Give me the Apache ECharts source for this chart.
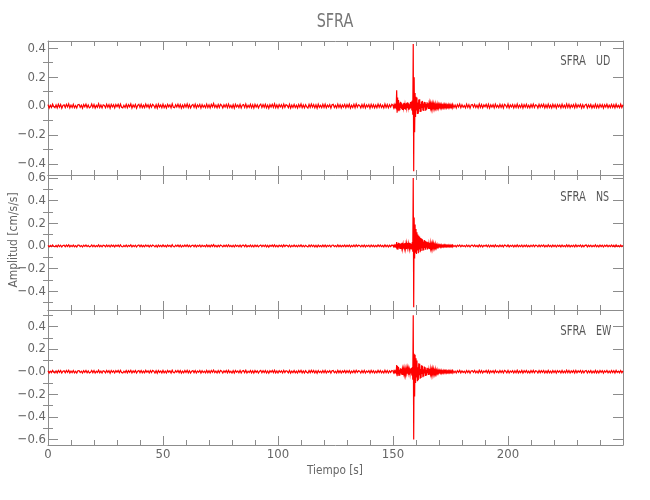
<!DOCTYPE html>
<html>
<head>
<meta charset="utf-8">
<script src="https://cdn.jsdelivr.net/npm/echarts@6/dist/echarts.min.js"></script>
<style>html,body{margin:0;padding:0;background:#fff}#c{width:650px;height:500px}</style>
</head>
<body>
<div id="c"></div>
<script>
// ---- Data ----
const title = 'SFRA';
const station = 'SFRA';
const components = ['UD', 'NS', 'EW'];
const xName = 'Tiempo [s]';
const yName = 'Amplitud [cm/s/s]';
const xTicks = [0, 50, 100, 150, 200];

// sampling of the three stored segments (seconds)
const quietAStart = 0, quietAStep = 0.5;
const eventStart = 150, eventStep = 0.2;
const quietBStart = 176, quietBStep = 0.5;

// UD component
const udQuietA = [
.010,-.013,.006,-.009,.014,-.004,-.011,.008,-.012,.013,-.007,.011,-.014,.005,.009,-.010,.012,-.006,.015,-.012,
.007,-.009,.013,-.011,.004,-.013,.010,.012,-.008,.006,-.014,.011,-.005,.013,-.010,.008,-.012,-.006,.014,-.009,
.011,-.013,.005,-.008,.016,-.010,.007,-.012,.009,.004,-.011,.013,-.007,.010,-.015,.012,-.006,.009,-.013,.011,
-.004,.012,-.010,.014,-.008,-.012,.006,-.009,.013,-.011,.010,-.005,.015,-.013,.008,-.007,.011,-.014,.005,.012,
-.009,.013,-.011,.006,-.010,.014,-.006,.009,-.013,.011,-.008,.012,.004,-.012,.010,-.015,.013,-.007,.008,-.011,
.014,-.010,.006,-.013,.012,-.005,.009,-.012,.016,-.008,-.011,.010,-.006,.013,-.009,.011,-.014,.007,-.010,.012,
-.007,.015,-.011,.009,-.013,.005,.011,-.009,.013,-.012,.008,-.006,.012,-.014,.010,-.008,.006,-.011,.014,-.010,
.009,-.013,.012,-.005,.018,-.009,.007,-.012,.011,-.010,.013,.005,-.013,.009,-.007,.012,-.011,.014,-.009,.006,
-.012,.010,-.014,.013,-.006,.008,-.010,.012,-.013,.007,.011,-.009,.015,-.012,.006,-.008,.013,-.011,.010,-.014,
.012,-.007,.009,-.013,.005,.014,-.010,.011,-.008,.013,-.012,.007,-.015,.010,-.006,.012,-.009,.016,-.011,.008,
-.013,.011,-.006,.009,-.012,.014,-.008,.010,.005,-.011,.013,-.014,.007,-.009,.012,-.010,.006,-.013,.011,-.007,
.015,-.011,.008,-.012,.010,-.005,-.013,.012,-.009,.014,-.007,.011,-.012,.009,-.015,.013,-.008,.006,-.011,.012,
-.010,.013,-.012,.007,-.006,.011,-.014,.009,.012,-.010,.005,-.012,.014,-.009,.010,-.013,.008,-.007,.012,-.011,
.010,-.008,.013,-.014,.006,-.009,.012,-.011,.015,-.007,.009,.004,-.012,.011,-.010,.013,-.013,.008,-.006,.011,
-.014,.012,-.009,.010,-.012,.007,-.011,.014,-.008,.012,-.010,.006,-.013,.015,-.009,.011,-.012,.009,-.007,.013];
const udEvent = [
.006,-.008,.005,-.007,.008,-.006,.007,-.006,
.110,-.045,.060,-.030,.042,-.035,.020,-.028,
.030,-.012,.025,-.022,.010,-.026,.018,-.009,.022,
-.020,.008,-.024,.017,-.011,.023,-.015,.026,-.008,.019,-.025,.012,-.018,.028,-.014,.032,-.030,.038,
-.060,.430,-.450,.200,-.180,.090,-.075,.065,
-.030,.060,-.055,.025,-.052,.045,-.020,.048,-.040,.015,
-.038,.032,-.012,.036,-.030,.018,-.034,.029,-.010,.027,-.031,.014,-.024,.026,-.009,
.020,-.020,.009,-.019,.018,-.007,.017,-.016,.008,-.017,.015,-.006,.015,-.014,.007,-.014,.013,-.011,.005,-.012,
.012,-.010,.007,-.012,.010,-.005,.010,-.009,.006,-.010,.009,-.008,.004,-.009,.007,-.008,.009,-.005,.008,-.007,
.007,-.009,.004,-.006,.008,-.008,.005,-.007,.008,-.006,.004,-.007,.006,-.008];
const udQuietB = [
.012,-.010,.007,-.013,.011,-.006,.014,-.011,.009,-.008,.005,-.012,.013,-.009,.010,-.014,.008,.011,-.007,.012,
-.010,.006,-.013,.015,-.009,.011,-.012,.008,-.005,.012,-.011,.013,-.014,.009,-.007,.010,-.012,.014,-.008,.006,
-.011,.013,-.009,.010,-.013,.012,.005,-.010,.014,-.012,.008,-.006,.011,-.013,.009,-.010,.015,-.011,.007,-.009,
.012,-.014,.010,-.007,.013,-.011,.006,-.012,.011,-.008,.014,-.010,.009,.005,-.013,.012,-.009,.011,-.006,.013,
-.012,.008,-.011,.014,-.010,.007,-.013,.012,-.008,.010,-.014,.011,-.006,.009,-.012,.013,-.010,.006,-.011,.015,
-.009,.012,-.013,.008,-.007,.011,-.012,.014,-.010,.009,-.006,.012,-.013,.010,-.011,.007,.013,-.012,.009,-.008,
.011,-.013,.006,-.010,.014,-.011,.008,-.012,.012,-.007,.010,-.014,.009,-.006,.013,-.011,.007,-.010,.012,-.009,
.010,-.012,.014,-.008,.006,-.011,.013,-.010,.009];

// NS component
const nsQuietA = [
.006,-.008,.004,-.006,.009,-.003,-.007,.005,-.008,.008,-.005,.007,-.009,.004,.006,-.007,.008,-.004,.010,-.008,
.005,-.006,.008,-.007,.003,-.009,.007,.008,-.005,.004,-.009,.007,-.004,.008,-.006,.005,-.008,-.004,.009,-.006,
.007,-.008,.004,-.005,.010,-.007,.005,-.008,.006,.003,-.007,.008,-.005,.007,-.009,.008,-.004,.006,-.008,.007,
-.003,.008,-.007,.009,-.005,-.008,.004,-.006,.008,-.007,.006,-.004,.010,-.008,.005,-.005,.007,-.009,.004,.008,
-.006,.008,-.007,.004,-.007,.009,-.004,.006,-.008,.007,-.005,.008,.003,-.008,.006,-.010,.008,-.005,.005,-.007,
.009,-.006,.004,-.008,.008,-.003,.006,-.008,.011,-.005,-.007,.007,-.004,.008,-.006,.007,-.009,.005,-.006,.008,
-.005,.010,-.007,.006,-.008,.004,.007,-.006,.008,-.008,.005,-.004,.008,-.009,.006,-.005,.004,-.007,.009,-.006,
.006,-.008,.008,-.004,.012,-.006,.005,-.008,.007,-.006,.008,.003,-.008,.006,-.005,.008,-.007,.009,-.006,.004,
-.008,.006,-.009,.008,-.004,.005,-.007,.008,-.008,.005,.007,-.006,.010,-.008,.004,-.005,.008,-.007,.006,-.009,
.008,-.005,.006,-.008,.003,.009,-.006,.007,-.005,.008,-.008,.005,-.010,.006,-.004,.008,-.006,.010,-.007,.005,
-.008,.007,-.004,.006,-.008,.009,-.005,.006,.003,-.007,.008,-.009,.005,-.006,.008,-.006,.004,-.008,.007,-.005,
.010,-.007,.005,-.008,.006,-.003,-.008,.008,-.006,.009,-.005,.007,-.008,.006,-.010,.008,-.005,.004,-.007,.008,
-.006,.008,-.008,.005,-.004,.007,-.009,.006,.008,-.006,.003,-.008,.009,-.006,.006,-.008,.005,-.005,.008,-.007,
.006,-.005,.008,-.009,.004,-.006,.008,-.007,.010,-.005,.006,.003,-.008,.007,-.006,.008,-.008,.005,-.004,.007,
-.009,.008,-.006,.006,-.008,.005,-.007,.009,-.005,.008,-.006,.004,-.008,.010,-.006,.007,-.008,.006,-.005,.008];
const nsEvent = [
.005,-.006,.004,-.005,.006,-.005,.005,-.006,
.035,-.030,.020,-.032,.028,-.015,.024,-.027,
.018,-.026,.024,-.010,.027,-.021,.012,-.025,.022,
-.014,.026,-.022,.011,-.027,.020,-.013,.025,-.024,.015,-.020,.027,-.012,.024,-.028,.018,-.030,.034,
-.050,.600,-.540,.250,-.110,.190,-.060,.150,
-.070,.120,-.040,.100,-.065,.090,-.030,.080,-.055,.070,
-.045,.065,-.020,.058,-.042,.040,-.038,.052,-.018,.045,-.034,.040,-.015,.036,-.030,
.032,-.022,.015,-.026,.028,-.012,.024,-.021,.010,-.022,.020,-.009,.018,-.017,.008,-.016,.015,-.012,.006,-.014,
.010,-.008,.005,-.009,.008,-.004,.008,-.008,.004,-.007,.007,-.006,.003,-.007,.006,-.005,.007,-.004,.006,-.005,
.005,-.006,.004,-.005,.006,-.005,.003,-.006,.006,-.005,.003,-.005,.005,-.006];
const nsQuietB = [
.008,-.006,.005,-.008,.007,-.004,.009,-.007,.006,-.005,.003,-.008,.008,-.006,.006,-.009,.005,.007,-.005,.008,
-.006,.004,-.008,.010,-.006,.007,-.008,.005,-.003,.008,-.007,.008,-.009,.006,-.005,.006,-.008,.009,-.005,.004,
-.007,.008,-.006,.006,-.008,.008,.003,-.006,.009,-.008,.005,-.004,.007,-.008,.006,-.006,.010,-.007,.005,-.006,
.008,-.009,.006,-.005,.008,-.007,.004,-.008,.007,-.005,.009,-.006,.006,.003,-.008,.008,-.006,.007,-.004,.008,
-.008,.005,-.007,.009,-.006,.005,-.008,.008,-.005,.006,-.009,.007,-.004,.006,-.008,.008,-.006,.004,-.007,.010,
-.006,.008,-.008,.005,-.005,.007,-.008,.009,-.006,.006,-.004,.008,-.008,.006,-.007,.005,.008,-.008,.006,-.005,
.007,-.008,.004,-.006,.009,-.007,.005,-.008,.008,-.005,.006,-.009,.006,-.004,.008,-.007,.005,-.006,.008,-.006,
.006,-.008,.009,-.005,.004,-.007,.008,-.006,.006];

// EW component
const ewQuietA = [
.009,-.011,.005,-.008,.012,-.004,-.010,.007,-.011,.011,-.006,.010,-.012,.004,.008,-.009,.011,-.005,.013,-.010,
.006,-.008,.011,-.010,.004,-.012,.009,.010,-.007,.005,-.012,.010,-.005,.011,-.009,.007,-.011,-.005,.012,-.008,
.010,-.011,.004,-.007,.014,-.009,.006,-.011,.008,.004,-.010,.011,-.006,.009,-.013,.011,-.005,.008,-.011,.010,
-.004,.011,-.009,.012,-.007,-.011,.005,-.008,.011,-.010,.009,-.005,.013,-.011,.007,-.006,.010,-.012,.005,.011,
-.008,.011,-.010,.005,-.009,.012,-.005,.008,-.011,.010,-.007,.011,.004,-.011,.009,-.013,.011,-.006,.007,-.010,
.012,-.009,.005,-.011,.011,-.004,.008,-.011,.014,-.007,-.010,.009,-.005,.011,-.008,.010,-.012,.006,-.009,.011,
-.006,.013,-.010,.008,-.011,.005,.010,-.008,.011,-.011,.007,-.005,.011,-.012,.009,-.007,.005,-.010,.012,-.009,
.008,-.011,.011,-.005,.015,-.008,.006,-.011,.010,-.009,.011,.004,-.011,.008,-.006,.011,-.010,.012,-.008,.005,
-.011,.009,-.012,.011,-.005,.007,-.009,.011,-.011,.006,.010,-.008,.013,-.011,.005,-.007,.011,-.010,.009,-.012,
.011,-.006,.008,-.011,.004,.012,-.009,.010,-.007,.011,-.011,.006,-.013,.009,-.005,.011,-.008,.014,-.010,.007,
-.011,.010,-.005,.008,-.011,.012,-.007,.009,.004,-.010,.011,-.012,.006,-.008,.011,-.009,.005,-.011,.010,-.006,
.013,-.010,.007,-.011,.009,-.004,-.011,.011,-.008,.012,-.006,.010,-.011,.008,-.013,.011,-.007,.005,-.010,.011,
-.009,.011,-.011,.006,-.005,.010,-.012,.008,.011,-.009,.004,-.011,.012,-.008,.009,-.011,.007,-.006,.011,-.010,
.009,-.007,.011,-.012,.005,-.008,.011,-.010,.013,-.006,.008,.004,-.011,.010,-.009,.011,-.011,.007,-.005,.010,
-.012,.011,-.008,.009,-.011,.006,-.010,.012,-.007,.011,-.009,.005,-.011,.013,-.008,.010,-.011,.008,-.006,.011];
const ewEvent = [
.006,-.007,.005,-.007,.006,-.005,.007,-.006,
.060,-.040,.050,-.025,.042,-.038,.018,-.032,
.030,-.014,.026,-.027,.012,-.028,.022,-.010,.024,
-.022,.010,-.025,.020,-.012,.024,-.018,.027,-.009,.022,-.026,.013,-.020,.028,-.016,.032,-.034,.042,
-.070,.500,-.600,.160,-.220,.150,-.100,.120,
-.050,.100,-.085,.040,-.075,.075,-.030,.070,-.062,.025,
-.055,.058,-.020,.052,-.048,.022,-.042,.046,-.015,.040,-.038,.018,-.032,.034,-.012,
.030,-.029,.012,-.026,.027,-.010,.024,-.023,.011,-.022,.021,-.009,.020,-.019,.008,-.018,.017,-.015,.007,-.016,
.012,-.011,.006,-.011,.010,-.005,.010,-.009,.005,-.010,.009,-.008,.004,-.009,.008,-.007,.008,-.005,.008,-.007,
.007,-.008,.004,-.006,.007,-.007,.004,-.007,.008,-.006,.004,-.006,.006,-.007];
const ewQuietB = [
.011,-.009,.006,-.011,.010,-.005,.012,-.010,.008,-.007,.004,-.011,.011,-.008,.009,-.012,.007,.010,-.006,.011,
-.009,.005,-.011,.013,-.008,.010,-.011,.007,-.004,.011,-.010,.011,-.012,.008,-.006,.009,-.011,.012,-.007,.005,
-.010,.011,-.008,.009,-.011,.011,.004,-.009,.012,-.011,.007,-.005,.010,-.011,.008,-.009,.013,-.010,.006,-.008,
.011,-.012,.009,-.006,.011,-.010,.005,-.011,.010,-.007,.012,-.009,.008,.004,-.011,.011,-.008,.010,-.005,.011,
-.011,.007,-.010,.012,-.009,.006,-.011,.011,-.007,.009,-.012,.010,-.005,.008,-.011,.011,-.009,.005,-.010,.013,
-.008,.011,-.011,.007,-.006,.010,-.011,.012,-.009,.008,-.005,.011,-.011,.009,-.010,.006,.011,-.011,.008,-.007,
.010,-.011,.005,-.009,.012,-.010,.007,-.011,.011,-.006,.009,-.012,.008,-.005,.011,-.010,.006,-.009,.011,-.008,
.009,-.011,.012,-.007,.005,-.010,.011,-.009,.008];

// y-axis ranges and tick values per panel
const yRanges = [[-0.476, 0.45], [-0.565, 0.626], [-0.648, 0.546]];
const yMajor = [[-0.4,-0.2,0,0.2,0.4], [-0.4,-0.2,0,0.2,0.4,0.6], [-0.6,-0.4,-0.2,0,0.2,0.4]];
const yMinor = [[-0.3,-0.1,0.1,0.3], [-0.5,-0.3,-0.1,0.1,0.3,0.5], [-0.5,-0.3,-0.1,0.1,0.3,0.5]];

// ---- build ----
function seg(start, step, vals) { return vals.map((v, i) => [+(start + i * step).toFixed(3), v]); }
function trace(a, e, b) { return seg(quietAStart, quietAStep, a).concat(seg(eventStart, eventStep, e), seg(quietBStart, quietBStep, b)); }
const traces = [trace(udQuietA, udEvent, udQuietB), trace(nsQuietA, nsEvent, nsQuietB), trace(ewQuietA, ewEvent, ewQuietB)];

const FONT = "'Liberation Sans Narrow','DejaVu Sans Condensed','Noto Sans',sans-serif";
const AX = '#8c8c8c';
const TXT = '#666';
const tops = [41, 175, 310];
const heights = [134, 135, 135];

const grids = [], xAxes = [], yAxes = [], series = [];
for (let g = 0; g < 3; g++) {
  grids.push({ left: 48, right: 27, top: tops[g], height: heights[g], containLabel: false });
  ['bottom', 'top'].forEach(pos => {
    xAxes.push({
      gridIndex: g, type: 'value', position: pos, min: 0, max: 250, interval: 50,
      axisLine: { show: true, onZero: false, lineStyle: { color: AX, width: 1 } },
      axisTick: { show: true, inside: true, length: 9, lineStyle: { color: AX } },
      minorTick: { show: true, splitNumber: 5, length: 5, lineStyle: { color: AX } },
      splitLine: { show: false }, minorSplitLine: { show: false },
      axisLabel: { show: g === 2 && pos === 'bottom', color: TXT, fontFamily: FONT, fontSize: 13, margin: 3,
        customValues: xTicks }
    });
  });
  const mainY = yAxes.length;
  const fmt = v => {
    if (Math.abs(v) < 1e-9) return g === 2 ? '\u22120.0' : '0.0';
    return (v < 0 ? '\u2212' : '') + Math.abs(v).toFixed(1);
  };
  [['left', true], ['right', false]].forEach(([pos, lab]) => {
    yAxes.push({
      gridIndex: g, type: 'value', position: pos, min: yRanges[g][0], max: yRanges[g][1],
      axisLine: { show: true, onZero: false, lineStyle: { color: AX, width: 1 } },
      axisTick: { show: true, inside: true, length: 10, customValues: yMajor[g], lineStyle: { color: AX } },
      splitLine: { show: false },
      axisLabel: { show: lab, customValues: yMajor[g], formatter: fmt, color: TXT, fontFamily: FONT, fontSize: 13, margin: 2 }
    });
    yAxes.push({
      gridIndex: g, type: 'value', position: pos, min: yRanges[g][0], max: yRanges[g][1],
      axisLine: { show: false },
      axisTick: { show: true, inside: true, length: 5, customValues: yMinor[g], lineStyle: { color: AX } },
      splitLine: { show: false },
      axisLabel: { show: false }
    });
  });
  series.push({
    type: 'lines', coordinateSystem: 'cartesian2d', polyline: true,
    xAxisIndex: g * 2, yAxisIndex: mainY, clip: true, silent: true,
    large: false,
    data: [{ coords: traces[g] }],
    lineStyle: { color: '#ff0000', width: 1.2, opacity: 1 }
  });
}

const panelLabelY = [61, 197, 331];
const graphics = [
  { type: 'text', x: 335, y: 22, scaleX: 0.8, style: { text: title, font: "20px " + FONT, fill: '#777', textAlign: 'center', textVerticalAlign: 'middle' } },
  { type: 'text', x: 335, y: 471, scaleX: 0.9, style: { text: xName, font: "13px " + FONT, fill: TXT, textAlign: 'center', textVerticalAlign: 'middle' } },
  { type: 'text', x: 14, y: 240, rotation: Math.PI / 2, scaleX: 0.92, style: { text: yName, font: "13px " + FONT, fill: TXT, textAlign: 'center', textVerticalAlign: 'middle' } }
];
components.forEach((c, i) => {
  graphics.push({ type: 'text', x: 586, y: panelLabelY[i], scaleX: 0.8, style: { text: station, font: "14px " + FONT, fill: '#555', textAlign: 'right', textVerticalAlign: 'middle' } });
  graphics.push({ type: 'text', x: 596, y: panelLabelY[i], scaleX: 0.75, style: { text: c, font: "14px " + FONT, fill: '#555', textAlign: 'left', textVerticalAlign: 'middle' } });
});

const chart = echarts.init(document.getElementById('c'), null, { renderer: 'canvas' });
chart.setOption({
  animation: false,
  backgroundColor: '#fff',
  grid: grids, xAxis: xAxes, yAxis: yAxes, series: series, graphic: graphics
});
</script>
</body>
</html>
